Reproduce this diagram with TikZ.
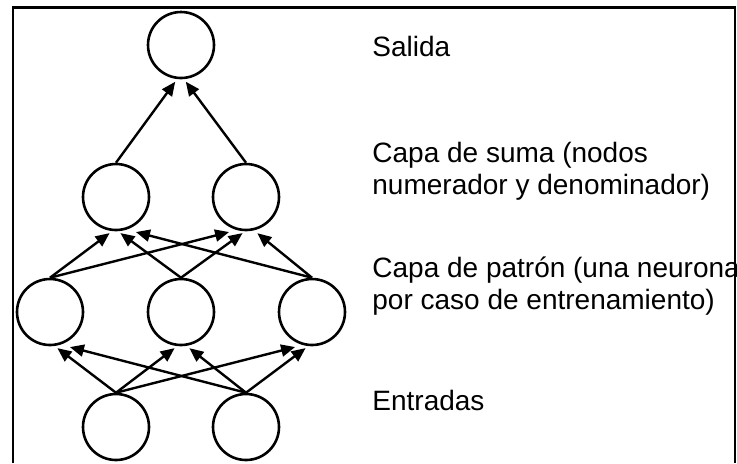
\documentclass[tikz,border=0pt]{standalone}
\usepackage{fontspec}
\setmainfont{Liberation Sans}
\usetikzlibrary{arrows.meta, positioning}

\tikzset{
  neuron/.style={circle, draw, line width=1.3pt, minimum size=33pt, inner sep=0pt},
  conn/.style={line width=1.2pt, -{Triangle[length=7pt,width=6pt]}, shorten >=1.5pt},
  layerlabel/.style={anchor=base west, align=left, inner sep=0pt,
    font=\fontsize{14}{16}\selectfont}
}

\begin{document}
\begin{tikzpicture}[x=0.5pt, y=-0.5pt]
\useasboundingbox (0,0) rectangle (737,463);

% Frame (open at the bottom)
\draw[line width=1.4pt] (13,463) -- (13,7.5) -- (735,7.5) -- (735,463);

% Output layer
\node[neuron] (out) at (181,45) {};

% Summation layer
\node[neuron] (sum1) at (116,197) {};
\node[neuron] (sum2) at (246,197) {};

% Pattern layer
\node[neuron] (pat1) at (50,312) {};
\node[neuron] (pat2) at (181,312) {};
\node[neuron] (pat3) at (312,312) {};

% Input layer
\node[neuron] (in1) at (116,427) {};
\node[neuron] (in2) at (246,427) {};

% Connections: source / target / offset at target
\foreach \s/\t/\d in {sum1/out/-2pt, sum2/out/1.5pt,
    pat1/sum1/-2pt, pat2/sum1/1pt, pat3/sum1/8.5pt,
    pat1/sum2/-7pt, pat2/sum2/-0.5pt, pat3/sum2/4.5pt,
    in1/pat1/2.5pt, in2/pat1/8.5pt,
    in1/pat2/-2pt, in2/pat2/3pt,
    in1/pat3/-7pt, in2/pat3/-2pt}
{
    \draw[conn] (\s.north) -- ([xshift=\d]\t.south);
}

% Labels for the layers
\node[layerlabel] (lblout) at (372,56) {Salida};
\node[layerlabel] (lblsum) at (372,194) {Capa de suma (nodos\\numerador y denominador)};
\node[layerlabel] (lblpat) at (372,309) {Capa de patrón (una neurona\\por caso de entrenamiento)};
\node[layerlabel] (lblin) at (372,410) {Entradas};

\end{tikzpicture}
\end{document}
